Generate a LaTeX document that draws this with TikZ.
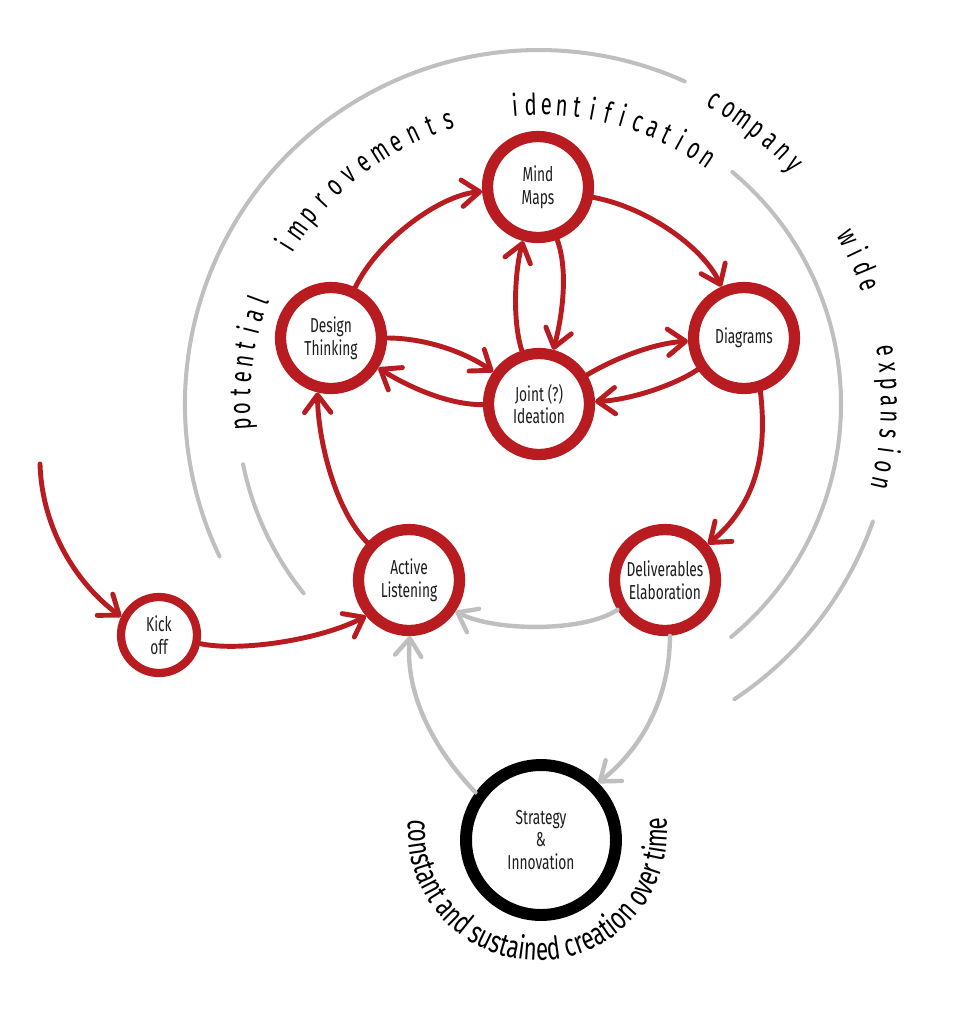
\documentclass[tikz,border=0pt]{standalone}
\usepackage{fontspec}
\setmainfont{Fira Sans}[FakeStretch=0.8]
\newfontfamily\condfont{Fira Sans}[FakeStretch=0.68]
\newfontfamily\bottomfont{Fira Sans}[FakeStretch=0.71]
\usetikzlibrary{arrows.meta,decorations.text}
\definecolor{myred}{RGB}{184,28,32}
\definecolor{mygrey}{RGB}{191,191,191}
\definecolor{labelgrey}{RGB}{30,30,30}
\tikzset{
  stagenode/.style={circle, draw=myred, line width=6.4pt, fill=white, minimum size=2.02cm, inner sep=0pt, align=center, text=labelgrey, font=\condfont\fontsize{11.5}{13}\selectfont},
  kicknode/.style={stagenode, line width=4.7pt, minimum size=1.52cm},
  corenode/.style={stagenode, draw=black, line width=6.8pt, minimum size=3.0cm},
  redlink/.style={draw=myred, line width=2.8pt, line cap=round, -{Straight Barb[length=10pt,width=15pt,round]}},
  greylink/.style={draw=mygrey, line width=2.5pt, line cap=round, -{Straight Barb[length=10pt,width=15pt,round]}},
  greyarc/.style={draw=mygrey, line width=2.3pt, line cap=round},
  arcletter/.style={anchor=base, inner sep=0pt, font=\condfont\fontsize{17}{19}\selectfont}
}
% #1 name prefix, #2 centre, #3 baseline radius, #4 start angle, #5 step, #6 letters
\newcommand\arcword[6]{%
  \foreach \ch [count=\i from 0] in {#6} {%
    \pgfmathsetmacro\ang{#4+\i*#5}%
    \path (#2) ++(\ang:#3) node[arcletter, rotate={-\ang-90}] (#1\i) {\ch};%
  }%
}
\begin{document}
\begin{tikzpicture}[x=0.02cm,y=-0.02cm]
\useasboundingbox (0,0) rectangle (975,1012);

% nodes
\node[stagenode] (mm) at (538,187) {Mind\\Maps};
\node[stagenode] (dt) at (331,338) {Design\\Thinking};
\node[stagenode] (ji) at (539,404) {Joint (?)\\Ideation};
\node[stagenode] (dg) at (744,338) {Diagrams};
\node[stagenode] (al) at (409,580) {Active\\Listening};
\node[stagenode] (de) at (665,580) {Deliverables\\Elaboration};
\node[kicknode] (ko) at (159,635) {Kick\\off};
\node[corenode] (si) at (541,840) {Strategy\\\&\\Innovation};

% grey circles around the cycle
\draw[greyarc] (ji.center) ++(154.5:354) arc[start angle=154.5, end angle=294.3, radius=354];
\draw[greyarc] (ji.center) ++(19.4:354) arc[start angle=19.4, end angle=56.5, radius=354];
\draw[greyarc] (ji.center) ++(141.2:302) arc[start angle=141.2, end angle=168.5, radius=302];
\draw[greyarc] (ji.center) ++(-50.2:302) arc[start angle=-50.2, end angle=50.5, radius=302];

% arc texts
\arcword{wp}{ji.center}{289}{176.1}{3.03}{p,o,t,e,n,t,i,a,l}
\arcword{wi}{ji.center}{289}{212.0}{3.67}{i,m,p,r,o,v,e,m,e,n,t,s}
\arcword{wd}{ji.center}{289}{265.4}{3.0}{i,d,e,n,t,i,f,i,c,a,t,i,o,n}
\arcword{wc}{ji.center}{342}{300.0}{2.8}{c,o,m,p,a,n,y}
\arcword{ww}{ji.center}{342}{331.8}{2.75}{w,i,d,e}
\arcword{we}{ji.center}{342}{351.2}{2.74}{e,x,p,a,n,s,i,o,n}

\coordinate (tc) at (538,831);
\path[decorate, decoration={text along path, text={|\bottomfont\fontsize{18}{20}\selectfont|constant and sustained creation over time}, text align=center}]
  (tc) ++(200:129.5) arc[start angle=200, end angle=-21, radius=129.5];

% red connectors
\draw[redlink] (dt) .. controls (378,240) and (440,195) .. (mm);
\draw[redlink] (mm) .. controls (650,208) and (705,250) .. (dg);
\draw[redlink] (mm) .. controls (570,275) and (560,325) .. (ji);
\draw[redlink] (ji) .. controls (512,320) and (515,270) .. (mm);
\draw[redlink] (dt) .. controls (425,338) and (465,352) .. (ji);
\draw[redlink] (ji) .. controls (450,405) and (410,388) .. (dt);
\draw[redlink] (ji) .. controls (615,358) and (655,343) .. (dg);
\draw[redlink] (dg) .. controls (675,385) and (630,400) .. (ji);
\draw[redlink] (dg.-73) .. controls (768,455) and (755,505) .. (de);
\draw[redlink] (al.138) .. controls (335,510) and (318,440) .. (dt.256);
\draw[redlink] (ko) .. controls (240,652) and (320,640) .. (al.220);
\coordinate (entry) at (40,464);
\draw[redlink] (entry) .. controls (42,530) and (78,585) .. (ko.154);

% grey connectors
\draw[greylink] (de.212) .. controls (585,632) and (495,632) .. (al.-34);
\draw[greylink] (de.-85) .. controls (670,700) and (640,750) .. (si.45);
\draw[greylink] (si.144) .. controls (430,745) and (405,690) .. (al.-89);
\end{tikzpicture}
\end{document}
